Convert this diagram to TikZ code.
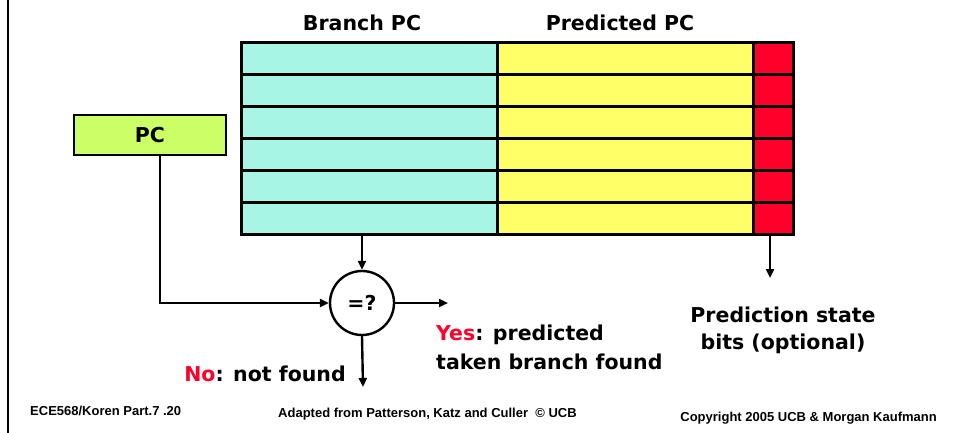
\documentclass[tikz,border=0pt]{standalone}
\usepackage{fontspec}
\setmainfont{DejaVu Sans}
\newfontfamily\footfont{Liberation Sans}
\usetikzlibrary{arrows.meta,calc}
\definecolor{cyancell}{RGB}{166,245,229}
\definecolor{yellowcell}{RGB}{255,255,102}
\definecolor{redcell}{RGB}{255,0,43}
\definecolor{pcgreen}{RGB}{204,255,102}
\definecolor{redtext}{RGB}{255,0,43}
\begin{document}
\begin{tikzpicture}[x=1pt,y=-1pt,
  cell/.style={draw=black,line width=2.6pt,inner sep=0pt,minimum height=32pt,anchor=north west},
  lbl/.style={font=\bfseries\fontsize{20.5}{24}\selectfont,inner sep=0pt},
  foot/.style={font=\footfont\bfseries\fontsize{13}{15}\selectfont,inner sep=0pt},
  conn/.style={line width=2.4pt,-{Triangle[length=9pt,width=8pt]}}]
\useasboundingbox (0,0) rectangle (954,433);
\draw[line width=2.4pt] (8,0) -- (8,433);
\foreach \i in {1,...,6} {
  \node[cell,fill=cyancell,minimum width=256pt] (b\i) at (240,{41+32*(\i-1)}) {};
  \node[cell,fill=yellowcell,minimum width=256pt] (p\i) at (496,{41+32*(\i-1)}) {};
  \node[cell,fill=redcell,minimum width=40pt] (s\i) at (752,{41+32*(\i-1)}) {};
}
\node[lbl,anchor=base] (tb) at (362,31) {Branch PC};
\node[lbl,anchor=base] (tp) at (620,31) {Predicted PC};
\node[lbl,draw,line width=2.6pt,fill=pcgreen,minimum width=152pt,minimum height=40pt] (pc) at (150,135) {PC};
\node[lbl,circle,draw,line width=2.4pt,minimum size=64pt] (cmp) at (362,303) {=?};
\coordinate (yesend) at (448,303);
\coordinate (noend) at (363,387);
\coordinate (bitsend) at (770,278);
\draw[conn] (cmp.north |- b6.south) -- (cmp.north);
\draw[conn] ([xshift=10pt]pc.south) |- (cmp.west);
\draw[conn] (cmp.east) -- (yesend);
\draw[conn] (cmp.south) -- (noend);
\draw[conn] (bitsend |- s6.south) -- (bitsend);
\node[lbl,anchor=base] (no) at (265,381) {\textcolor{redtext}{No}: not found};
\node[lbl,anchor=base west] (yes1) at (436,340) {\textcolor{redtext}{Yes}: predicted};
\node[lbl,anchor=base west] (yes2) at (436,369) {taken branch found};
\node[lbl,anchor=base] (ps1) at (783,322) {Prediction state};
\node[lbl,anchor=base] (ps2) at (783,349) {bits (optional)};
\node[foot,anchor=base west] (f1) at (30,415) {ECE568/Koren Part.7 .20};
\node[foot,anchor=base west] (f2) at (278,417) {Adapted from Patterson, Katz and Culler\ \ © UCB};
\node[foot,anchor=base east] (f3) at (937,421) {Copyright 2005 UCB \& Morgan Kaufmann};
\end{tikzpicture}
\end{document}
